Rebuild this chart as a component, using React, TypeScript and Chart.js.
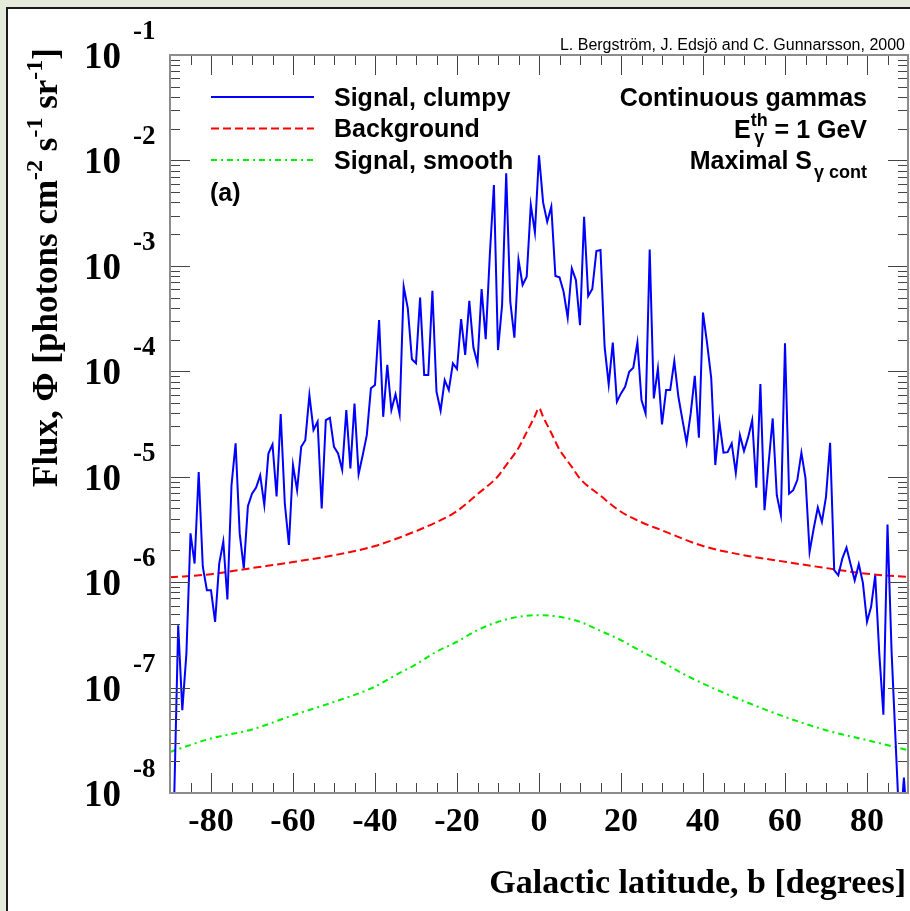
import React, { useEffect, useRef } from "react";
import { Chart, registerables } from "chart.js";

Chart.register(...registerables);

// ---------------- data ----------------
// Galactic latitude grid for the clumpy signal: -90 .. 90 in 1 degree steps
const CLUMPY_LAT_START = -90;
const CLUMPY_LAT_STEP = 1;
// Flux (photons cm^-2 s^-1 sr^-1), clumpy halo signal
const CLUMPY_FLUX = [
  // -90 .. -81
  4e-9, 8e-9, 3.9e-7, 6.1e-8, 2.1e-7, 2.9e-6, 1.5e-6, 1.11e-5, 1.4e-6, 8.4e-7,
  // -80 .. -71
  8.4e-7, 4.2e-7, 1.5e-6, 2.42e-6, 6.85e-7, 8.3e-6, 2.07e-5, 2.9e-6, 1.35e-6, 5.26e-6,
  // -70 .. -61
  6.9e-6, 7.9e-6, 1.03e-5, 5.4e-6, 1.66e-5, 2.02e-5, 6.5e-6, 3.93e-5, 5.6e-6, 2.25e-6,
  // -60 .. -51
  1.29e-5, 7.46e-6, 1.92e-5, 2.22e-5, 5.94e-5, 2.77e-5, 3.32e-5, 5.0e-6, 3.44e-5, 3.62e-5,
  // -50 .. -41
  1.92e-5, 1.66e-5, 1.16e-5, 4.29e-5, 1.2e-5, 4.95e-5, 1.06e-5, 1.6e-5, 2.48e-5, 6.89e-5,
  // -40 .. -31
  7.4e-5, 3.06e-4, 3.7e-5, 1.15e-4, 4.29e-5, 6.04e-5, 3.93e-5, 6.34e-4, 3.95e-4, 1.3e-4,
  // -30 .. -21
  1.19e-4, 5.0e-4, 9.2e-5, 9.2e-5, 5.8e-4, 6.4e-5, 4.23e-5, 8.26e-5, 6.64e-5, 1.19e-4,
  // -20 .. -11
  1.05e-4, 3.13e-4, 1.43e-4, 4.67e-4, 1.68e-4, 1.19e-4, 6.03e-4, 2.02e-4, 1.26e-3, 5.85e-3,
  // -10 .. -1
  1.59e-4, 4.25e-4, 7.55e-3, 4.56e-4, 2.08e-4, 1.14e-3, 6.58e-4, 7.88e-4, 3.78e-3, 2.08e-3,
  // 0 .. 9
  1.12e-2, 4.0e-3, 2.62e-3, 3.64e-3, 8.0e-4, 7.78e-4, 5.68e-4, 3.22e-4, 9.46e-4, 7.33e-4,
  // 10 .. 19
  2.74e-4, 2.92e-3, 5.17e-4, 6.03e-4, 1.38e-3, 1.41e-3, 1.71e-4, 7.5e-5, 1.87e-4, 5.14e-5,
  // 20 .. 29
  6.17e-5, 7.13e-5, 9.9e-5, 1.08e-4, 1.87e-4, 5.33e-5, 3.98e-5, 1.43e-3, 5.53e-5, 1.06e-4,
  // 30 .. 39
  3.13e-5, 6.64e-5, 6.64e-5, 1.25e-4, 5.73e-5, 3.44e-5, 2.1e-5, 3.98e-5, 9.06e-5, 2.34e-5,
  // 40 .. 49
  3.61e-4, 1.84e-4, 8.67e-5, 1.29e-5, 3.32e-5, 1.69e-5, 1.71e-5, 2.07e-5, 1.09e-5, 2.48e-5,
  // 50 .. 59
  1.75e-5, 2.36e-5, 3.44e-5, 7.85e-6, 7.57e-5, 4.82e-6, 1.34e-5, 3.57e-5, 6.68e-6, 4.32e-6,
  // 60 .. 69
  1.84e-4, 6.9e-6, 7.46e-6, 9.29e-6, 1.69e-5, 9.64e-6, 1.94e-6, 3.23e-6, 5.1e-6, 3.73e-6,
  // 70 .. 79
  6.44e-6, 2.1e-5, 1.3e-6, 1.16e-6, 1.68e-6, 2.13e-6, 1.48e-6, 1.04e-6, 1.48e-6, 9.86e-7,
  // 80 .. 90
  4.2e-7, 5.83e-7, 1.16e-6, 2.1e-7, 5.54e-8, 3.52e-6, 2.18e-7, 2.94e-8, 4e-9, 1.4e-8, 4e-9,
];

// Background (diffuse gamma) flux
const BACKGROUND_LAT = [
  -90, -80, -70, -60, -50, -40, -30, -25, -20, -15, -10, -8, -6, -5, -4, -3, -2, -1, 0,
  1, 2, 3, 4, 5, 6, 8, 10, 15, 20, 25, 30, 40, 50, 60, 70, 80, 90,
];
const BACKGROUND_FLUX = [
  1.11e-6, 1.19e-6, 1.36e-6, 1.55e-6, 1.8e-6, 2.2e-6, 3.05e-6, 3.71e-6, 4.72e-6, 6.84e-6,
  1.01e-5, 1.29e-5, 1.64e-5, 1.87e-5, 2.22e-5, 2.65e-5, 3.15e-5, 3.76e-5, 4.48e-5,
  3.7e-5, 3.1e-5, 2.6e-5, 2.15e-5, 1.8e-5, 1.58e-5, 1.24e-5, 9.6e-6, 6.6e-6, 4.65e-6,
  3.7e-6, 3.1e-6, 2.2e-6, 1.8e-6, 1.56e-6, 1.36e-6, 1.2e-6, 1.12e-6,
];

// Smooth halo signal
const SMOOTH_LAT = [
  -90, -80, -70, -60, -50, -40, -35, -30, -25, -20, -15, -10, -5, 0,
  5, 10, 15, 20, 25, 30, 35, 40, 50, 60, 70, 80, 90,
];
const SMOOTH_FLUX = [
  2.45e-8, 3.29e-8, 4.0e-8, 5.47e-8, 7.31e-8, 1.02e-7, 1.31e-7, 1.66e-7, 2.19e-7, 2.72e-7,
  3.51e-7, 4.2e-7, 4.69e-7, 4.86e-7,
  4.69e-7, 4.2e-7, 3.45e-7, 2.82e-7, 2.2e-7, 1.75e-7, 1.36e-7, 1.09e-7, 7.43e-8, 5.27e-8,
  3.94e-8, 3.17e-8, 2.55e-8,
];

const X_TICK_LABELS = [-80, -60, -40, -20, 0, 20, 40, 60, 80];
const Y_DECADES = [-8, -7, -6, -5, -4, -3, -2, -1];
const LEGEND_LABELS = ["Signal, clumpy", "Background", "Signal, smooth"];
const SERIES_COLORS = ["#0000ff", "#ff0000", "#00ee00"];
const SERIES_DASHES = [[], [8, 4], [6, 4, 2, 4]];

const SERIF = '"Liberation Serif", "Times New Roman", serif';
const SANS = '"Liberation Sans", Arial, Helvetica, sans-serif';

const W = 910;
const H = 911;

const decorPlugin = {
  id: "rootDecor",
  afterDatasetsDraw(chart: any) {
    const ctx: CanvasRenderingContext2D = chart.ctx;
    const { left, right, top, bottom } = chart.chartArea;
    const xs = chart.scales.x;
    const ys = chart.scales.y;
    ctx.save();

    // ---- ticks on all four sides (inward) ----
    ctx.strokeStyle = "#444";
    ctx.lineWidth = 1;
    ctx.setLineDash([]);
    ctx.beginPath();
    for (let v = -85; v <= 85; v += 5) {
      const px = Math.round(xs.getPixelForValue(v)) + 0.5;
      const len = v % 20 === 0 ? 20 : 10;
      ctx.moveTo(px, bottom);
      ctx.lineTo(px, bottom - len);
      ctx.moveTo(px, top);
      ctx.lineTo(px, top + len);
    }
    for (const d of Y_DECADES) {
      for (let k = 1; k <= 9; k++) {
        if (d === -1 && k > 1) break;
        const py = Math.round(ys.getPixelForValue(k * Math.pow(10, d))) + 0.5;
        const len = k === 1 ? 20 : 10;
        ctx.moveTo(left, py);
        ctx.lineTo(left + len, py);
        ctx.moveTo(right, py);
        ctx.lineTo(right - len, py);
      }
    }
    ctx.stroke();

    // ---- frame ----
    ctx.strokeStyle = "#8c8c8c";
    ctx.lineWidth = 2;
    ctx.strokeRect(left, top, right - left, bottom - top);

    ctx.fillStyle = "#000";

    // ---- x tick labels ----
    ctx.font = `bold 34px ${SERIF}`;
    ctx.textAlign = "center";
    ctx.textBaseline = "alphabetic";
    for (const v of X_TICK_LABELS) {
      ctx.fillText(String(v), xs.getPixelForValue(v), 831);
    }

    // ---- y tick labels (10^n) ----
    for (const d of Y_DECADES) {
      const py = ys.getPixelForValue(Math.pow(10, d));
      ctx.font = `bold 37px ${SERIF}`;
      ctx.textAlign = "right";
      ctx.fillText("10", 121, py + 13);
      ctx.font = `bold 27px ${SERIF}`;
      ctx.textAlign = "left";
      ctx.fillText(String(d), 133, py - 16);
    }

    // ---- x title ----
    ctx.font = `bold 34px ${SERIF}`;
    ctx.textAlign = "right";
    ctx.fillText("Galactic latitude, b [degrees]", 906, 893);

    // ---- y title (rotated) ----
    ctx.save();
    ctx.translate(57, 487);
    ctx.rotate(-Math.PI / 2);
    ctx.textAlign = "left";
    const runs: [string, boolean][] = [
      ["Flux, \u03A6 [photons cm", false],
      ["-2", true],
      [" s", false],
      ["-1", true],
      [" sr", false],
      ["-1", true],
      ["]", false],
    ];
    let tx = 0;
    for (const [t, sup] of runs) {
      ctx.font = sup ? `bold 24px ${SERIF}` : `bold 35px ${SERIF}`;
      ctx.fillText(t, tx, sup ? -15 : 0);
      tx += ctx.measureText(t).width;
    }
    ctx.restore();

    // ---- credits ----
    ctx.font = `16px ${SANS}`;
    ctx.textAlign = "right";
    ctx.fillText("L. Bergstr\u00F6m, J. Edsj\u00F6 and C. Gunnarsson, 2000", 905, 50);

    // ---- legend ----
    const legendY = [97, 128.5, 160];
    const baseY = [106, 137, 168.5];
    for (let i = 0; i < LEGEND_LABELS.length; i++) {
      ctx.strokeStyle = SERIES_COLORS[i];
      ctx.lineWidth = 2;
      ctx.setLineDash(SERIES_DASHES[i]);
      ctx.beginPath();
      ctx.moveTo(211, legendY[i]);
      ctx.lineTo(314, legendY[i]);
      ctx.stroke();
      ctx.setLineDash([]);
      ctx.font = `bold 25px ${SANS}`;
      ctx.textAlign = "left";
      ctx.fillStyle = "#000";
      ctx.fillText(LEGEND_LABELS[i], 334, baseY[i]);
    }
    ctx.font = `bold 25px ${SANS}`;
    ctx.fillText("(a)", 210, 201);

    // ---- annotation block (right aligned) ----
    const RX = 867;
    ctx.font = `bold 25px ${SANS}`;
    ctx.textAlign = "right";
    ctx.fillText("Continuous gammas", RX, 106);

    // E^th_gamma = 1 GeV
    ctx.textAlign = "left";
    ctx.font = `bold 25px ${SANS}`;
    const wE = ctx.measureText("E").width;
    const wRest = ctx.measureText(" = 1 GeV").width;
    ctx.font = `bold 18px ${SANS}`;
    const wTh = ctx.measureText("th").width;
    const wG = ctx.measureText("\u03B3").width;
    const wScript = Math.max(wTh, wG);
    let sx = RX - (wE + wScript + wRest);
    ctx.font = `bold 25px ${SANS}`;
    ctx.fillText("E", sx, 137.5);
    ctx.font = `bold 18px ${SANS}`;
    ctx.fillText("th", sx + wE, 126);
    ctx.fillText("\u03B3", sx + wE + (wScript - wG) / 2, 143);
    ctx.font = `bold 25px ${SANS}`;
    ctx.fillText(" = 1 GeV", sx + wE + wScript, 137.5);

    // Maximal S_{gamma cont}
    ctx.font = `bold 25px ${SANS}`;
    const wMax = ctx.measureText("Maximal S").width;
    ctx.font = `bold 18px ${SANS}`;
    const wSub = ctx.measureText("\u03B3 cont").width;
    sx = RX - (wMax + 2 + wSub);
    ctx.font = `bold 25px ${SANS}`;
    ctx.fillText("Maximal S", sx, 169);
    ctx.font = `bold 18px ${SANS}`;
    ctx.fillText("\u03B3 cont", sx + wMax + 2, 177.5);

    ctx.restore();
  },
};

export default function App() {
  const canvasRef = useRef<HTMLCanvasElement | null>(null);

  useEffect(() => {
    const canvas = canvasRef.current;
    if (!canvas) return;

    const clumpy = CLUMPY_FLUX.map((f, i) => ({ x: CLUMPY_LAT_START + i * CLUMPY_LAT_STEP, y: f }));
    const background = BACKGROUND_LAT.map((b, i) => ({ x: b, y: BACKGROUND_FLUX[i] }));
    const smooth = SMOOTH_LAT.map((b, i) => ({ x: b, y: SMOOTH_FLUX[i] }));

    const chart = new Chart(canvas, {
      type: "line",
      data: {
        datasets: [
          {
            label: LEGEND_LABELS[0],
            data: clumpy,
            borderColor: SERIES_COLORS[0],
            borderWidth: 2,
            pointRadius: 0,
            tension: 0,
            fill: false,
          },
          {
            label: LEGEND_LABELS[1],
            data: background,
            borderColor: SERIES_COLORS[1],
            borderWidth: 2,
            borderDash: SERIES_DASHES[1],
            pointRadius: 0,
            cubicInterpolationMode: "monotone",
            fill: false,
          },
          {
            label: LEGEND_LABELS[2],
            data: smooth,
            borderColor: SERIES_COLORS[2],
            borderWidth: 2,
            borderDash: SERIES_DASHES[2],
            pointRadius: 0,
            cubicInterpolationMode: "monotone",
            fill: false,
          },
        ],
      },
      options: {
        responsive: false,
        animation: false,
        devicePixelRatio: 1,
        layout: { padding: { left: 170, top: 55, right: 2, bottom: 118 } },
        plugins: {
          legend: { display: false },
          tooltip: { enabled: false },
          title: { display: false },
        },
        events: [],
        scales: {
          x: { type: "linear", min: -90, max: 90, display: false },
          y: { type: "logarithmic", min: 1e-8, max: 1e-1, display: false },
        },
      },
      plugins: [decorPlugin],
    } as any);

    return () => chart.destroy();
  }, []);

  return (
    <div
      style={{
        position: "fixed",
        left: 0,
        top: 0,
        width: W,
        height: H,
        background: "#e5ebdb",
        overflow: "hidden",
      }}
    >
      <div
        style={{
          position: "absolute",
          left: 6,
          top: 7,
          width: W,
          height: H,
          background: "#ffffff",
          borderLeft: "2px solid #1a1a1a",
          borderTop: "2px solid #1a1a1a",
        }}
      />
      <canvas
        ref={canvasRef}
        width={W}
        height={H}
        style={{ position: "absolute", left: 0, top: 0, width: W, height: H }}
      />
    </div>
  );
}
